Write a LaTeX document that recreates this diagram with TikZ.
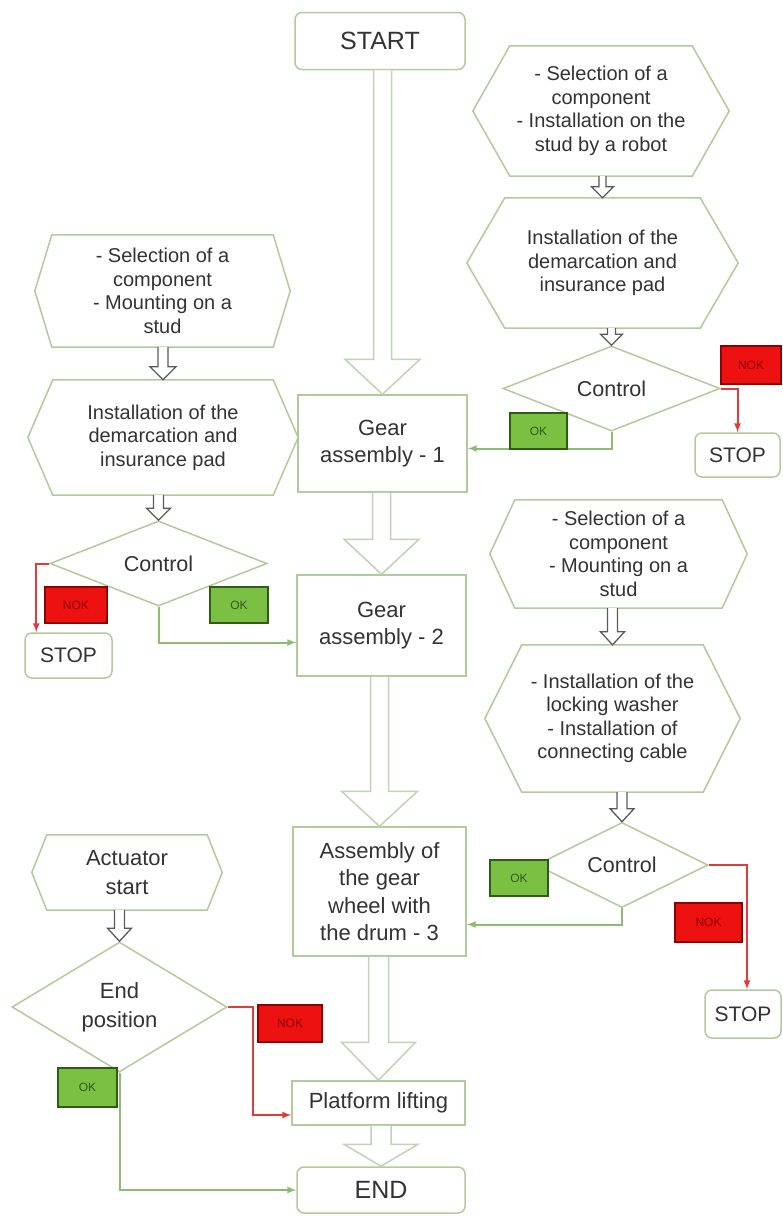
\documentclass[tikz,border=0pt]{standalone}
\usepackage{fontspec}
\setmainfont{Liberation Sans}
\usetikzlibrary{shapes,arrows,calc}

\definecolor{boxline}{HTML}{B2CB9C}
\definecolor{txt}{HTML}{333333}
\definecolor{okfill}{HTML}{7CC043}
\definecolor{okdraw}{HTML}{2E5B18}
\definecolor{nokfill}{HTML}{EE1111}
\definecolor{nokdraw}{HTML}{8C0000}
\definecolor{greenln}{HTML}{8DBB70}
\definecolor{redln}{HTML}{E23B3B}
\definecolor{pipeln}{HTML}{C2D2B4}
\definecolor{thinln}{HTML}{5A5A5A}

\tikzset{
	hexnode/.style={align=center, inner sep=0pt, text=txt, font=\fontsize{20}{23.5}\selectfont},
	box/.style={draw=boxline, line width=1.5pt, fill=white, align=center, inner sep=0pt, text=txt, font=\fontsize{22}{27.5}\selectfont},
	rbox/.style={box, rounded corners=7pt},
	ctrl/.style={diamond, draw=boxline, line width=1.5pt, align=center, inner sep=0pt, text=txt, font=\fontsize{21.5}{29}\selectfont},
	hexline/.style={draw=boxline, line width=1.5pt},
	oklabel/.style={draw=okdraw, fill=okfill, line width=1.5pt, inner sep=0pt, text=okdraw, font=\fontsize{12}{12}\selectfont},
	noklabel/.style={draw=nokdraw, fill=nokfill, line width=1.5pt, inner sep=0pt, text=nokdraw, font=\fontsize{12}{12}\selectfont},
	okpath/.style={draw=greenln, line width=2pt, -latex},
	nokpath/.style={draw=redln, line width=2pt, -latex},
	pipe/.style={draw=pipeln, line width=1.5pt, fill=white},
	thinpipe/.style={draw=thinln, line width=1.3pt, fill=white}
}

\newcommand{\fatarrow}[6]{%
	\draw[#1] let \p1=(#2.south), \p2=(#3.north) in
		({\x2-#4pt},\y1) -- ({\x2-#4pt},{\y2+#6pt}) -- ({\x2-#5pt},{\y2+#6pt}) -- (\x2,\y2)
		-- ({\x2+#5pt},{\y2+#6pt}) -- ({\x2+#4pt},{\y2+#6pt}) -- ({\x2+#4pt},\y1);
}

\begin{document}
\begin{tikzpicture}[x=1pt, y=-1pt]
	\fill[white] (0,0) rectangle (782,1218);
	\useasboundingbox (0,0) rectangle (782,1218);

	\node[rbox, minimum width=170, minimum height=57, font=\fontsize{25}{25}\selectfont] (start) at (380,41) {START};
	\node[box, minimum width=169, minimum height=97] (gearA) at (382.5,443.5) {Gear\\assembly - 1};
	\node[box, minimum width=169, minimum height=101] (gearB) at (381.5,625.5) {Gear\\assembly - 2};
	\node[box, minimum width=173, minimum height=129] (asm) at (379.5,891.5) {Assembly of\\the gear\\wheel with\\the drum - 3};
	\node[box, minimum width=173, minimum height=44] (plat) at (378.5,1103) {Platform lifting};
	\node[rbox, minimum width=168, minimum height=46, font=\fontsize{25}{25}\selectfont] (endN) at (381,1190) {END};

	\node[hexnode, minimum width=256, minimum height=130] (hR1) at (601,111) {- Selection of a\\component\\- Installation on the\\stud by a robot};
	\node[hexnode, minimum width=271, minimum height=130] (hR2) at (602.5,263) {Installation of the\\demarcation and\\insurance pad};
	\node[hexnode, minimum width=255, minimum height=112] (hL1) at (162.5,291) {- Selection of a\\component\\- Mounting on a\\stud};
	\node[hexnode, minimum width=270, minimum height=115] (hL2) at (163,437.5) {Installation of the\\demarcation and\\insurance pad};
	\node[hexnode, minimum width=257, minimum height=108] (hR3) at (618.5,554) {- Selection of a\\component\\- Mounting on a\\stud};
	\node[hexnode, minimum width=255, minimum height=147] (hR4) at (612.5,718.5) {- Installation of the\\locking washer\\- Installation of\\connecting cable};
	\node[hexnode, minimum width=190, minimum height=75, font=\fontsize{22}{29}\selectfont] (hAct) at (127,872.5) {Actuator\\start};
	\foreach \n/\d in {hR1/37pt, hR2/38pt, hL1/17pt, hL2/25pt, hR3/25pt, hR4/37pt, hAct/15pt}
		\draw[hexline] (\n.west) -- ([xshift=\d]\n.north west) -- ([xshift=-\d]\n.north east) -- (\n.east)
			-- ([xshift=-\d]\n.south east) -- ([xshift=\d]\n.south west) -- cycle;

	\node[ctrl, minimum width=217, minimum height=77] (ctrlR1) at (611.5,388.5) {Control};
	\node[ctrl, minimum width=217, minimum height=77] (ctrlL) at (158.5,563.5) {Control};
	\node[ctrl, minimum width=172, minimum height=66] (ctrlR3) at (622,865) {Control};
	\node[ctrl, minimum width=215, minimum height=130, font=\fontsize{22}{29}\selectfont] (endpos) at (119.5,1007) {End\\position};

	\node[rbox, minimum width=85, minimum height=44, font=\fontsize{21}{21}\selectfont] (stopR1) at (737.5,455) {STOP};
	\node[rbox, minimum width=87, minimum height=45, font=\fontsize{21}{21}\selectfont] (stopL) at (68.5,655.5) {STOP};
	\node[rbox, minimum width=76, minimum height=48, font=\fontsize{21}{21}\selectfont] (stopR3) at (743,1014) {STOP};

	\fatarrow{pipe}{start}{gearA}{9}{37.5}{35}
	\fatarrow{pipe}{gearA}{gearB}{9}{37.5}{35}
	\fatarrow{pipe}{gearB}{asm}{9}{38}{35}
	\fatarrow{pipe}{asm}{plat}{10}{37}{38}
	\fatarrow{pipe}{plat}{endN}{10}{37}{22}
	\fatarrow{thinpipe}{hR1}{hR2}{3.5}{11}{11}
	\fatarrow{thinpipe}{hR2}{ctrlR1}{4}{11}{11}
	\fatarrow{thinpipe}{hL1}{hL2}{5}{13}{13}
	\fatarrow{thinpipe}{hL2}{ctrlL}{5}{12}{12}
	\fatarrow{thinpipe}{hR3}{hR4}{5}{12}{13}
	\fatarrow{thinpipe}{hR4}{ctrlR3}{5}{12}{13}
	\fatarrow{thinpipe}{hAct}{endpos}{5}{12}{13}

	\draw[okpath] (ctrlR1.south) |- ([yshift=-5pt]gearA.east);
	\draw[nokpath] (ctrlR1.east) -| (stopR1.north);
	\draw[okpath] (ctrlL.south) |- ([yshift=-17pt]gearB.west);
	\draw[nokpath] (ctrlL.west) -- ++(-13,0) coordinate (cL) -- (cL |- stopL.north);
	\draw[okpath] (ctrlR3.south) |- ([yshift=-33pt]asm.east);
	\draw[nokpath] (ctrlR3.east) -| ([xshift=4pt]stopR3.north);
	\draw[okpath] (endpos.south) |- (endN.west);
	\draw[nokpath] (endpos.east) -- ++(25,0) coordinate (cA) |- ([yshift=-12pt]plat.west);

	\node[oklabel, minimum width=57, minimum height=36] (okR1) at (538.5,431) {OK};
	\node[noklabel, minimum width=60, minimum height=38] (nokR1) at (751,365) {NOK};
	\node[oklabel, minimum width=58, minimum height=36] (okL) at (239,605) {OK};
	\node[noklabel, minimum width=62, minimum height=36] (nokL) at (76,605) {NOK};
	\node[oklabel, minimum width=58, minimum height=36] (okR3) at (519,878) {OK};
	\node[noklabel, minimum width=67, minimum height=39] (nokR3) at (708.5,922.5) {NOK};
	\node[oklabel, minimum width=59, minimum height=39] (okAct) at (87.5,1087.5) {OK};
	\node[noklabel, minimum width=64, minimum height=37] (nokAct) at (290,1023.5) {NOK};
\end{tikzpicture}
\end{document}
